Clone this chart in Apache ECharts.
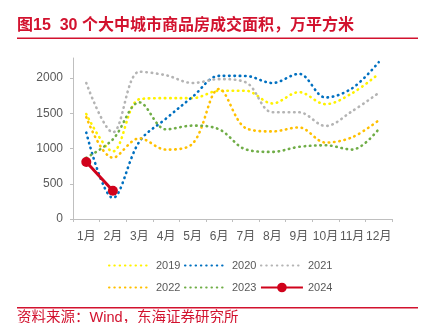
<!DOCTYPE html>
<html><head><meta charset="utf-8">
<script src="https://cdn.jsdelivr.net/npm/echarts@6/dist/echarts.min.js"></script>
<style>html,body{margin:0;padding:0;background:#fff}#c{width:431px;height:323px}</style>
</head><body><div id="c"></div>
<script>
const months = ['1月','2月','3月','4月','5月','6月','7月','8月','9月','10月','11月','12月'];
const yTicks = [0, 500, 1000, 1500, 2000];
const s2019 = [1490, 960, 1700, 1715, 1715, 1820, 1820, 1640, 1800, 1630, 1785, 2060];
const s2020 = [1225, 300, 1100, 1425, 1735, 2032, 2030, 1930, 2060, 1725, 1855, 2225];
const s2021 = [1930, 1230, 2090, 2040, 1930, 1985, 1940, 1515, 1515, 1320, 1530, 1790];
const s2022 = [1445, 870, 1145, 985, 1070, 1845, 1290, 1243, 1300, 1085, 1160, 1400];
const s2023 = [870, 1130, 1655, 1272, 1325, 1272, 988, 952, 1024, 1046, 985, 1275];
const s2024 = [810, 400];

const FONT = '"Liberation Sans","Noto Sans CJK SC",sans-serif';
const RED = '#D2122E';
function dotted(name, data, color) {
  return {
    name, type: 'line', data, smooth: 0.35, symbol: 'none', showSymbol: false,
    lineStyle: { color, width: 2.6, type: [0.5, 4.8], cap: 'round' },
    itemStyle: { color }
  };
}
function legendItem(name) {
  return { name, itemStyle: { opacity: 0 } };
}
const legendBase = { left: 108, padding: 0, itemWidth: 42, itemHeight: 12, itemGap: 3.5,
  textStyle: { color: '#595959', fontSize: 11, fontFamily: FONT } };
const chart = echarts.init(document.getElementById('c'), null, { renderer: 'canvas' });
chart.setOption({
  animation: false,
  textStyle: { fontFamily: FONT },
  grid: { left: 73, right: 39, top: 58, bottom: 104 },
  xAxis: {
    type: 'category', data: months, boundaryGap: true,
    axisLine: { lineStyle: { color: '#BFBFBF', width: 1 } },
    axisTick: { show: true, length: 3, lineStyle: { color: '#BFBFBF' } },
    axisLabel: { color: '#595959', fontSize: 12, margin: 11.5, interval: 0, fontFamily: FONT }
  },
  yAxis: {
    type: 'value', min: 0, max: 2285, interval: 500,
    axisLine: { show: true, lineStyle: { color: '#BFBFBF', width: 1 } },
    axisTick: { show: true, length: 3, customValues: yTicks, lineStyle: { color: '#BFBFBF' } },
    axisLabel: { color: '#595959', fontSize: 12, margin: 10, customValues: yTicks,
      formatter: v => String(v), fontFamily: FONT },
    splitLine: { show: false }
  },
  legend: [
    Object.assign({}, legendBase, { top: 260, data: ['2019', '2020', '2021'].map(legendItem) }),
    Object.assign({}, legendBase, { top: 282, data: [legendItem('2022'), legendItem('2023'), '2024'] })
  ],
  series: [
    dotted('2019', s2019, '#FFF200'),
    dotted('2020', s2020, '#0070C0'),
    dotted('2021', s2021, '#B4B4B4'),
    dotted('2022', s2022, '#FFC000'),
    dotted('2023', s2023, '#70AD47'),
    { name: '2024', type: 'line', data: s2024, smooth: false, symbol: 'circle', symbolSize: 10,
      lineStyle: { color: '#D0021B', width: 3 }, itemStyle: { color: '#D0021B' }, z: 5 }
  ],
  graphic: [
    { type: 'text', left: 17, top: 18, style: { text: '图15  30 个大中城市商品房成交面积，万平方米', fill: RED, font: 'bold 16px ' + FONT } },
    { type: 'rect', shape: { x: 17, y: 37.5, width: 401, height: 1.5 }, style: { fill: RED } },
    { type: 'rect', shape: { x: 17, y: 307, width: 401, height: 1.5 }, style: { fill: RED } },
    { type: 'text', left: 17, top: 311, style: { text: '资料来源：Wind，东海证券研究所', fill: RED, font: '14.5px ' + FONT } }
  ]
});
</script></body></html>
